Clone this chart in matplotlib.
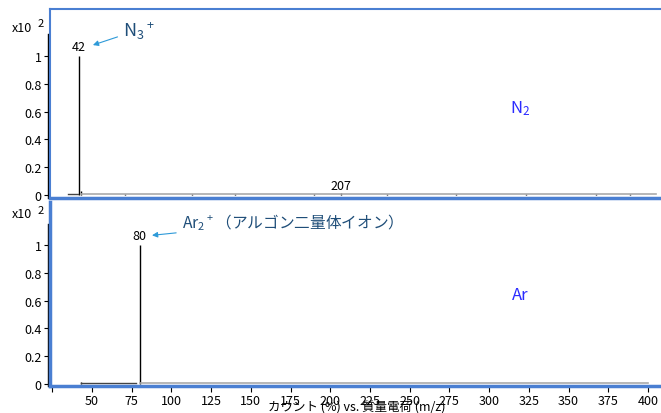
import numpy as np
import matplotlib.pyplot as plt

plt.rcParams['font.family'] = ['Noto Sans CJK JP', 'DejaVu Sans']
plt.rcParams['mathtext.default'] = 'regular'

# N2 スペクトル (m/z, 強度 x10^2)
n2_mz = [42, 43, 71, 113, 140, 190, 207, 236, 279, 323, 367, 389]
n2_int = [1.0, 0.025, 0.006, 0.006, 0.007, 0.007, 0.012, 0.006, 0.008, 0.008, 0.008, 0.007]
n2_low = ([35, 41], [0.006, 0.006])
n2_base = ([43, 405], [0.005, 0.005])

# Ar スペクトル
ar_mz = [43, 80]
ar_int = [0.012, 1.0]
ar_low = ([43, 78], [0.008, 0.008])
ar_base = ([80, 400], [0.004, 0.004])

yticks = [0, 0.2, 0.4, 0.6, 0.8, 1]
ylabels = ['0', '0.2', '0.4', '0.6', '0.8', '1']
xticks = [25, 50, 75, 100, 125, 150, 175, 200, 225, 250, 275, 300, 325, 350, 375, 400]
xlabels = [''] + [str(v) for v in xticks[1:]]

blue = '#4a7fd2'
W, H = 661, 414
fig = plt.figure(figsize=(W / 100, H / 100), dpi=100)
ax1 = fig.add_axes([50 / W, 1 - 199 / H, 611 / W, 189 / H])
ax2 = fig.add_axes([50 / W, 1 - 387 / H, 611 / W, 184 / H])

for ax in (ax1, ax2):
    ax.set_xlim(23.6, 408.2)
    ax.set_yticks(yticks)
    ax.set_yticklabels(ylabels, fontsize=9)
    ax.set_xticks(xticks)
    ax.tick_params(axis='both', direction='out', length=4, width=0.8, pad=2)
    ax.tick_params(axis='x', labelsize=9)

ax1.set_ylim(-0.022, 1.34)
ax2.set_ylim(-0.015, 1.31)

ax1.vlines(n2_mz, 0, n2_int, color='black', lw=1)
ax1.plot(*n2_low, color='#444444', lw=1)
ax1.plot(*n2_base, color='#aaaaaa', lw=1.2)
ax2.vlines(ar_mz, 0, ar_int, color='black', lw=1)
ax2.plot(*ar_low, color='#444444', lw=1)
ax2.plot(*ar_base, color='#aaaaaa', lw=1.2)

ax1.tick_params(axis='x', labelbottom=False, length=0)
ax2.set_xticklabels(xlabels)

for s in ax1.spines.values():
    s.set_color(blue)
    s.set_linewidth(1.5)
ax1.spines['right'].set_visible(False)
ax1.spines['bottom'].set_linewidth(2.5)
ax2.spines['top'].set_visible(False)
ax2.spines['right'].set_visible(False)
for s in ('left', 'bottom'):
    ax2.spines[s].set_color(blue)
    ax2.spines[s].set_linewidth(2.5)

# 黒い縦軸線
ax1.plot([-0.003, -0.003], [0, 0.87], transform=ax1.transAxes, color='k', lw=1, clip_on=False)
ax2.plot([-0.003, -0.003], [0, 0.88], transform=ax2.transAxes, color='k', lw=1, clip_on=False)

# 倍率表記
for y in (28, 215):
    fig.text(12 / W, 1 - y / H, 'x10', fontsize=9, va='center', ha='left')
    fig.text(38 / W, 1 - (y - 4) / H, '2', fontsize=8, va='center', ha='left')

# ピークラベル
ax1.text(42, 1.02, '42', ha='center', va='bottom', fontsize=9)
ax1.text(207, 0.02, '207', ha='center', va='bottom', fontsize=9)
ax2.text(80, 1.02, '80', ha='center', va='bottom', fontsize=9)

ion_color = '#1f4e79'
arrow = dict(arrowstyle='-|>', color='#2e9ad8', lw=0.8, mutation_scale=8,
             shrinkA=2, shrinkB=0)
ax1.annotate('N$_3$$^+$', xy=(50.6, 1.08), xytext=(69.5, 1.19), fontsize=13,
             color=ion_color, va='center', ha='left', arrowprops=arrow)
ax2.annotate('Ar$_2$$^+$（アルゴン二量体イオン）', xy=(87.8, 1.07), xytext=(106.5, 1.17),
             fontsize=11.3, color=ion_color, va='center', ha='left', arrowprops=arrow)

ax1.text(0.77, 0.48, 'N$_2$', transform=ax1.transAxes, color='#2b2bff', fontsize=12,
         ha='center', va='center')
ax2.text(0.77, 0.5, 'Ar', transform=ax2.transAxes, color='#2b2bff', fontsize=12,
         ha='center', va='center')

fig.text(357 / W, 1 - 408 / H, 'カウント (%) vs. 質量電荷 (m/z)', fontsize=9,
         ha='center', va='center')

fig.savefig('out.png', dpi=100)
